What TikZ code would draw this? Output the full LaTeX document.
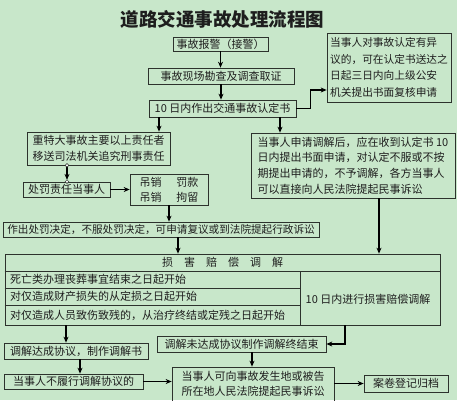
\documentclass[tikz,border=0pt]{standalone}
\usepackage{fontspec}
\newfontfamily\cjk{Noto Sans CJK SC}
\usetikzlibrary{arrows.meta}
\definecolor{bg}{RGB}{200,231,202}
\definecolor{edge}{RGB}{45,50,45}
\definecolor{ink}{RGB}{30,30,30}
\begin{document}
\begin{tikzpicture}[x=1pt,y=-1pt,
  bx/.style={draw=edge, line width=0.7pt, inner sep=0pt, text=ink, font=\cjk\fontsize{11}{16}\selectfont},
  arr/.style={draw=black, line width=1.2pt, -{Stealth[length=6pt,width=5pt]}},
  ln/.style={draw=edge, line width=0.7pt},
  txt/.style={inner sep=0pt, text=ink, font=\cjk\fontsize{11}{16}\selectfont}]
\fill[bg] (0,0) rectangle (457,400);
\useasboundingbox (0,0) rectangle (457,400);

% title
\node[inner sep=0pt, text=ink, font=\cjk\bfseries\fontsize{18.5}{20}\selectfont] (title) at (222.5,19) {道路交通事故处理流程图};

% main column
\node[bx, minimum width=95pt, minimum height=14pt] (n1) at (220.5,44) {事故报警（接警）};
\node[bx, minimum width=146pt, minimum height=16pt] (n2) at (221,76) {事故现场勘查及调查取证};
\node[bx, minimum width=147pt, minimum height=17pt] (n3) at (222.5,108.5) {10 日内作出交通事故认定书};

\node[bx, minimum width=124pt, minimum height=69pt, align=left, font=\cjk\fontsize{10.7}{16.5}\selectfont] (n4) at (389,67.5)
  {当事人对事故认定有异\\议的，可在认定书送达之\\日起三日内向上级公安\\机关提出书面复核申请};

\node[bx, minimum width=143pt, minimum height=33pt, align=center] (n5) at (98.5,148.5)
  {重特大事故主要以上责任者\\移送司法机关追究刑事责任};
\node[bx, minimum width=87pt, minimum height=15pt] (n6) at (66.5,189.5) {处罚责任当事人};
\node[bx, minimum width=78pt, minimum height=31pt, align=center, font=\cjk\fontsize{11}{15}\selectfont] (n7) at (169,189.5)
  {吊销\hspace{15pt}罚款\\吊销\hspace{15pt}拘留};
\node[bx, minimum width=316pt, minimum height=15pt, font=\cjk\fontsize{10.6}{14}\selectfont] (n8) at (161,229.5)
  {作出处罚决定，不服处罚决定，可申请复议或到法院提起行政诉讼};

\node[bx, minimum width=204pt, minimum height=65pt, align=left, font=\cjk\fontsize{11}{15.6}\selectfont] (n9) at (353,165.5)
  {当事人申请调解后，应在收到认定书 10\\日内提出书面申请，对认定不服或不按\\期提出申请的，不予调解，各方当事人\\可以直接向人民法院提起民事诉讼};

% compensation table
\node[bx, minimum width=435pt, minimum height=71pt] (n10) at (222.5,289.5) {};
\draw[ln] (n10.west |- 0,271) -- (n10.east |- 0,271);
\draw[ln] (n10.west |- 0,288) -- (300,288);
\draw[ln] (n10.west |- 0,305) -- (300,305);
\draw[ln] (300,271) -- (300,0 |- n10.south);
\node[txt] (hd) at (222.5,262.5) {损\hspace{11pt}害\hspace{11pt}赔\hspace{11pt}偿\hspace{11pt}调\hspace{11pt}解};
\node[txt, anchor=west] (r1) at (10,279.5) {死亡类办理丧葬事宜结束之日起开始};
\node[txt, anchor=west] (r2) at (10,296.5) {对仅造成财产损失的从定损之日起开始};
\node[txt, anchor=west] (r3) at (10,315) {对仅造成人员致伤致残的，从治疗终结或定残之日起开始};
\node[txt] (rc) at (368,299) {10 日内进行损害赔偿调解};

% bottom part
\node[bx, minimum width=144pt, minimum height=16pt] (n11) at (76,351) {调解达成协议，制作调解书};
\node[bx, minimum width=169pt, minimum height=16pt] (n12) at (241.5,344) {调解未达成协议制作调解终结束};
\node[bx, minimum width=139pt, minimum height=15pt] (n13) at (73.5,381.5) {当事人不履行调解协议的};
\node[bx, minimum width=162pt, minimum height=34pt, align=left, font=\cjk\fontsize{11}{15}\selectfont] (n14) at (253,384)
  {当事人可向事故发生地或被告\\所在地人民法院提起民事诉讼};
\node[bx, minimum width=84pt, minimum height=17pt] (n15) at (406,383.5) {案卷登记归档};

% connectors
\draw[arr] (n1.south) -- (n1.south |- n2.north);
\draw[arr] (n2.south) -- (n2.south |- n3.north);
\draw[arr] (n3.east) -- ++(14,0) |- ([yshift=-22.5pt]n4.west);
\draw[arr] ([xshift=-63.5pt]n3.south) -- ([xshift=-63.5pt]n3.south |- n5.north);
\draw[arr] ([xshift=57.5pt]n3.south) -- ([xshift=57.5pt]n3.south |- n9.north);
\draw[arr, shorten >=1.8pt] ([xshift=-31.5pt]n5.south) -- ([xshift=-31.5pt]n5.south |- n6.north);
\draw[ln, fill=white, line width=0.5pt] ([xshift=-31.5pt]n5.south) circle (1.8pt)
  ([xshift=-31.5pt]n5.south |- n6.north) circle (1.8pt);
\draw[arr] (n6.east) -- (n7.west);
\draw[arr] (n7.south) -- (n7.south |- n8.north);
\draw[arr] ([xshift=17pt]n8.south) -- ([xshift=17pt]n8.south |- n10.north);
\draw[arr] ([xshift=26pt]n9.south) -- ([xshift=26pt]n9.south |- n10.north);
\draw[arr] ([xshift=-156.5pt]n10.south) -- ([xshift=-156.5pt]n10.south |- n11.north);
\draw[arr] ([xshift=122.5pt]n10.south) |- (n12.east);
\draw[arr] ([xshift=4pt]n11.south) -- ([xshift=4pt]n11.south |- n13.north);
\draw[arr] ([xshift=10.5pt]n12.south) -- ([xshift=10.5pt]n12.south |- n14.north);
\draw[arr] (n13.east) -- (n13.east -| n14.west);
\draw[arr] (n15.west -| n14.east) -- (n15.west);
\end{tikzpicture}
\end{document}
